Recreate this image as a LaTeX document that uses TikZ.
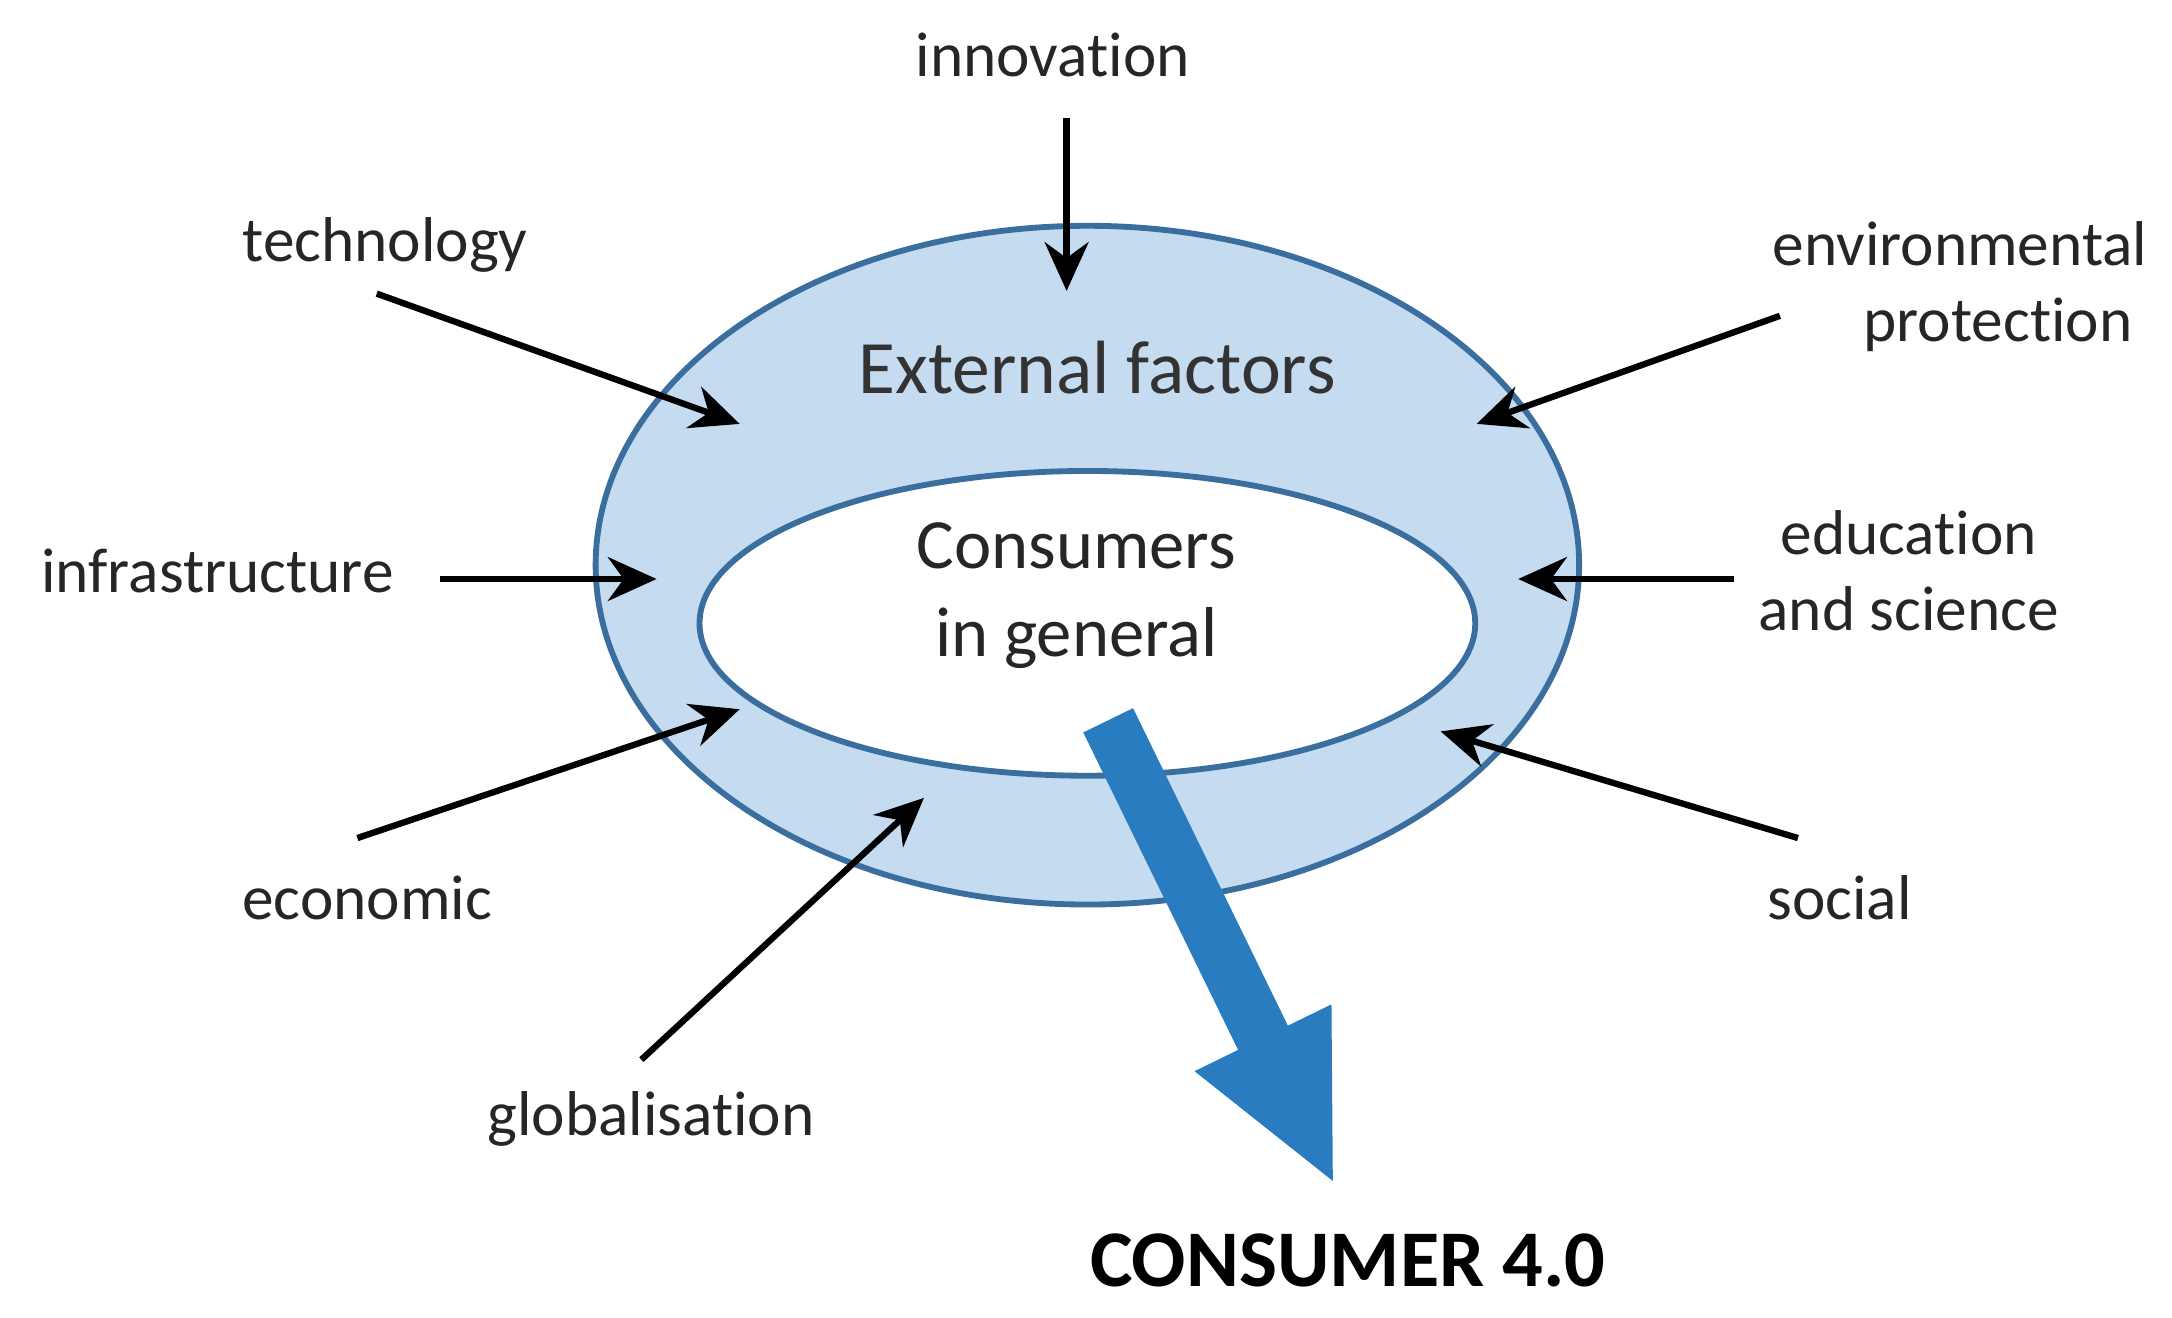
\documentclass[tikz,border=0pt]{standalone}
\usepackage{fontspec}
\setmainfont{Carlito}[Ligatures=NoCommon]
\usetikzlibrary{arrows.meta}
\begin{document}
\begin{tikzpicture}[x=0.01cm,y=-0.01cm,
  lbl/.style={font=\fontsize{13}{15.5}\selectfont,text=black!85,align=center},
  inarr/.style={-{Stealth[length=10pt,width=9pt]},line width=1.3pt,black}]
\useasboundingbox (0,0) rectangle (1568,951);
\definecolor{ringfill}{HTML}{C5DBF0}
\definecolor{ringdraw}{HTML}{3A6E9E}
\definecolor{bigarrow}{HTML}{2A7CC0}
\fill[ringfill,draw=ringdraw,line width=1.2pt] (785,408) ellipse [x radius=355,y radius=245];
\fill[white,draw=ringdraw,line width=1.2pt] (785,450) ellipse [x radius=280,y radius=110];
\node[font=\fontsize{15.5}{18}\selectfont,text=black!80] (ext) at (792,265) {External factors};
\node[lbl,font=\fontsize{14.5}{18}\selectfont] (cons) at (777,430) {Consumers\\in general};
% big arrow
\begin{scope}[shift={(800,520)},rotate=-64]
\fill[bigarrow] (0,-20) -- (255,-20) -- (255,-55) -- (370,0) -- (255,55) -- (255,20) -- (0,20) -- cycle;
\end{scope}
\node[font=\bfseries\fontsize{16.5}{19}\selectfont] (c40) at (973,910) {CONSUMER 4.0};
% labels
\node[lbl] (inn) at (760,40) {innovation};
\node[lbl] (tech) at (278,177) {technology};
\node[lbl] (env) at (1415,207) {environmental\\\hspace*{1.2em}protection};
\node[lbl] (infra) at (157,412) {infrastructure};
\node[lbl] (edu) at (1378,412) {education\\and science};
\node[lbl] (eco) at (265,648) {economic};
\node[lbl] (soc) at (1328,648) {social};
\node[lbl] (glob) at (470,808) {globalisation};
% arrow coordinates
\coordinate (a1) at (770,85); \coordinate (b1) at (770,210);
\coordinate (a2) at (272,212); \coordinate (b2) at (534,306);
\coordinate (a3) at (1285,228); \coordinate (b3) at (1066,306);
\coordinate (a4) at (318,418); \coordinate (b4) at (474,418);
\coordinate (a5) at (1252,418); \coordinate (b5) at (1096,418);
\coordinate (a6) at (258,605); \coordinate (b6) at (534,512);
\coordinate (a7) at (1298,605); \coordinate (b7) at (1040,528);
\coordinate (a8) at (463,765); \coordinate (b8) at (667,576);
\foreach \i in {1,...,8} \draw[inarr] (a\i) -- (b\i);
\end{tikzpicture}
\end{document}
